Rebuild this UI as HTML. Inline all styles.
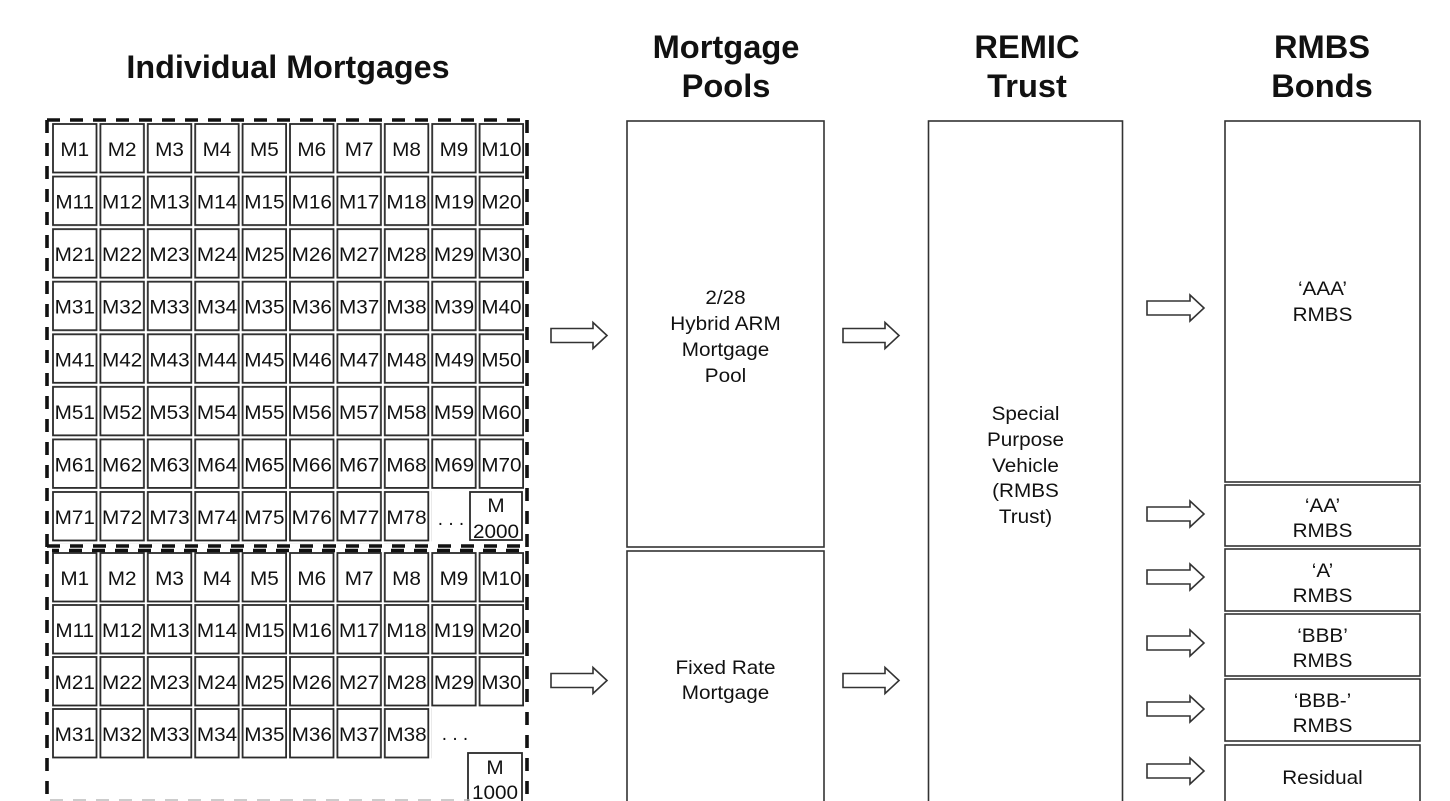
<!DOCTYPE html>
<html>
<head>
<meta charset="utf-8">
<style>
html,body{margin:0;padding:0;background:#fff;}
svg{display:block;}
text{font-family:"Liberation Sans",Arial,sans-serif;fill:#111;text-anchor:middle;}
.t{font-size:32px;font-weight:bold;}
.c{font-size:19px;}
.b{font-size:19px;}
</style>
</head>
<body>
<svg width="1450" height="801" viewBox="0 0 1450 801" xmlns="http://www.w3.org/2000/svg">
<defs>
<pattern id="p1" x="52" y="123" width="47.4" height="52.57" patternUnits="userSpaceOnUse">
<rect x="1" y="1" width="43.5" height="48.5" fill="#fff" stroke="#2a2a2a" stroke-width="1.8"/>
</pattern>
<pattern id="p2" x="52" y="552" width="47.4" height="52" patternUnits="userSpaceOnUse">
<rect x="1" y="1" width="43.5" height="48.5" fill="#fff" stroke="#2a2a2a" stroke-width="1.8"/>
</pattern>
</defs>

<!-- Titles -->
<g transform="translate(288 78) scale(1.01 1)"><text class="t" x="0" y="0">Individual  Mortgages</text></g>
<g transform="translate(726 0) scale(1.02 1)"><text class="t" x="0" y="58">Mortgage</text><text class="t" x="0" y="97">Pools</text></g>
<g transform="translate(1027 0) scale(1.02 1)"><text class="t" x="0" y="58">REMIC</text><text class="t" x="0" y="97">Trust</text></g>
<g transform="translate(1322 0) scale(1.02 1)"><text class="t" x="0" y="58">RMBS</text><text class="t" x="0" y="97">Bonds</text></g>

<!-- Grid cells -->
<rect x="52" y="123" width="474" height="368" fill="url(#p1)"/>
<rect x="52" y="491" width="379.2" height="52.57" fill="url(#p1)"/>
<rect x="470" y="492" width="52" height="48" fill="#fff" stroke="#2a2a2a" stroke-width="1.8"/>
<rect x="52" y="552" width="474" height="156" fill="url(#p2)"/>
<rect x="52" y="708" width="379.2" height="52" fill="url(#p2)"/>
<rect x="468" y="753" width="54" height="55" fill="#fff" stroke="#2a2a2a" stroke-width="1.8"/>

<!-- Dashed borders -->
<g fill="none" stroke="#111" stroke-width="3.6" stroke-dasharray="13 10">
<line x1="47" y1="120" x2="528" y2="120"/>
<line x1="47" y1="120" x2="47" y2="547"/>
<line x1="527" y1="120" x2="527" y2="547"/>
<line x1="47" y1="546" x2="528" y2="546"/>
<line x1="52" y1="550.5" x2="528" y2="550.5" stroke-dashoffset="6"/>
<line x1="47" y1="551" x2="47" y2="801"/>
<line x1="527" y1="551" x2="527" y2="801"/>
</g>
<line x1="50" y1="800" x2="470" y2="800" stroke="#bbb" stroke-width="1.5" stroke-dasharray="13 10"/>

<!-- Cell labels, column groups -->
<g class="c">
<g transform="translate(74.75 0) scale(1.09 1)">
<text class="c" y="156">M1</text><text class="c" y="208.6">M11</text><text class="c" y="261.1">M21</text><text class="c" y="313.7">M31</text><text class="c" y="366.3">M41</text><text class="c" y="418.9">M51</text><text class="c" y="471.4">M61</text><text class="c" y="524">M71</text>
<text class="c" y="585">M1</text><text class="c" y="637">M11</text><text class="c" y="689">M21</text><text class="c" y="741">M31</text>
</g>
<g transform="translate(122.15 0) scale(1.09 1)">
<text class="c" y="156">M2</text><text class="c" y="208.6">M12</text><text class="c" y="261.1">M22</text><text class="c" y="313.7">M32</text><text class="c" y="366.3">M42</text><text class="c" y="418.9">M52</text><text class="c" y="471.4">M62</text><text class="c" y="524">M72</text>
<text class="c" y="585">M2</text><text class="c" y="637">M12</text><text class="c" y="689">M22</text><text class="c" y="741">M32</text>
</g>
<g transform="translate(169.55 0) scale(1.09 1)">
<text class="c" y="156">M3</text><text class="c" y="208.6">M13</text><text class="c" y="261.1">M23</text><text class="c" y="313.7">M33</text><text class="c" y="366.3">M43</text><text class="c" y="418.9">M53</text><text class="c" y="471.4">M63</text><text class="c" y="524">M73</text>
<text class="c" y="585">M3</text><text class="c" y="637">M13</text><text class="c" y="689">M23</text><text class="c" y="741">M33</text>
</g>
<g transform="translate(216.95 0) scale(1.09 1)">
<text class="c" y="156">M4</text><text class="c" y="208.6">M14</text><text class="c" y="261.1">M24</text><text class="c" y="313.7">M34</text><text class="c" y="366.3">M44</text><text class="c" y="418.9">M54</text><text class="c" y="471.4">M64</text><text class="c" y="524">M74</text>
<text class="c" y="585">M4</text><text class="c" y="637">M14</text><text class="c" y="689">M24</text><text class="c" y="741">M34</text>
</g>
<g transform="translate(264.35 0) scale(1.09 1)">
<text class="c" y="156">M5</text><text class="c" y="208.6">M15</text><text class="c" y="261.1">M25</text><text class="c" y="313.7">M35</text><text class="c" y="366.3">M45</text><text class="c" y="418.9">M55</text><text class="c" y="471.4">M65</text><text class="c" y="524">M75</text>
<text class="c" y="585">M5</text><text class="c" y="637">M15</text><text class="c" y="689">M25</text><text class="c" y="741">M35</text>
</g>
<g transform="translate(311.75 0) scale(1.09 1)">
<text class="c" y="156">M6</text><text class="c" y="208.6">M16</text><text class="c" y="261.1">M26</text><text class="c" y="313.7">M36</text><text class="c" y="366.3">M46</text><text class="c" y="418.9">M56</text><text class="c" y="471.4">M66</text><text class="c" y="524">M76</text>
<text class="c" y="585">M6</text><text class="c" y="637">M16</text><text class="c" y="689">M26</text><text class="c" y="741">M36</text>
</g>
<g transform="translate(359.15 0) scale(1.09 1)">
<text class="c" y="156">M7</text><text class="c" y="208.6">M17</text><text class="c" y="261.1">M27</text><text class="c" y="313.7">M37</text><text class="c" y="366.3">M47</text><text class="c" y="418.9">M57</text><text class="c" y="471.4">M67</text><text class="c" y="524">M77</text>
<text class="c" y="585">M7</text><text class="c" y="637">M17</text><text class="c" y="689">M27</text><text class="c" y="741">M37</text>
</g>
<g transform="translate(406.55 0) scale(1.09 1)">
<text class="c" y="156">M8</text><text class="c" y="208.6">M18</text><text class="c" y="261.1">M28</text><text class="c" y="313.7">M38</text><text class="c" y="366.3">M48</text><text class="c" y="418.9">M58</text><text class="c" y="471.4">M68</text><text class="c" y="524">M78</text>
<text class="c" y="585">M8</text><text class="c" y="637">M18</text><text class="c" y="689">M28</text><text class="c" y="741">M38</text>
</g>
<g transform="translate(453.95 0) scale(1.09 1)">
<text class="c" y="156">M9</text><text class="c" y="208.6">M19</text><text class="c" y="261.1">M29</text><text class="c" y="313.7">M39</text><text class="c" y="366.3">M49</text><text class="c" y="418.9">M59</text><text class="c" y="471.4">M69</text>
<text class="c" y="585">M9</text><text class="c" y="637">M19</text><text class="c" y="689">M29</text>
</g>
<g transform="translate(501.35 0) scale(1.09 1)">
<text class="c" y="156">M10</text><text class="c" y="208.6">M20</text><text class="c" y="261.1">M30</text><text class="c" y="313.7">M40</text><text class="c" y="366.3">M50</text><text class="c" y="418.9">M60</text><text class="c" y="471.4">M70</text>
<text class="c" y="585">M10</text><text class="c" y="637">M20</text><text class="c" y="689">M30</text>
</g>
<g transform="translate(496 0) scale(1.09 1)">
<text class="c" y="512">M</text><text class="c" y="538">2000</text>
</g>
<g transform="translate(495 0) scale(1.09 1)">
<text class="c" y="774">M</text><text class="c" y="799">1000</text>
</g>
<text class="c" x="451" y="525">. . .</text>
<text class="c" x="455" y="740">. . .</text>
</g>

<!-- Boxes -->
<g fill="none" stroke="#333" stroke-width="1.6">
<rect x="627" y="121" width="197" height="426"/>
<rect x="627" y="551" width="197" height="260"/>
<rect x="928.5" y="121" width="194" height="690"/>
<rect x="1225" y="121" width="195" height="361"/>
<rect x="1225" y="485" width="195" height="61"/>
<rect x="1225" y="549" width="195" height="62"/>
<rect x="1225" y="614" width="195" height="62"/>
<rect x="1225" y="679" width="195" height="62"/>
<rect x="1225" y="745" width="195" height="70"/>
</g>

<!-- Box labels -->
<g transform="translate(725.5 0) scale(1.09 1)">
<text class="b" y="304">2/28</text>
<text class="b" y="330">Hybrid ARM</text>
<text class="b" y="356">Mortgage</text>
<text class="b" y="382">Pool</text>
<text class="b" y="674">Fixed Rate</text>
<text class="b" y="699">Mortgage</text>
</g>
<g transform="translate(1025.5 0) scale(1.09 1)">
<text class="b" y="420">Special</text>
<text class="b" y="446">Purpose</text>
<text class="b" y="472">Vehicle</text>
<text class="b" y="497">(RMBS</text>
<text class="b" y="523">Trust)</text>
</g>
<g transform="translate(1322.5 0) scale(1.09 1)">
<text class="b" y="295">‘AAA’</text>
<text class="b" y="321">RMBS</text>
<text class="b" y="512">‘AA’</text>
<text class="b" y="537">RMBS</text>
<text class="b" y="577">‘A’</text>
<text class="b" y="602">RMBS</text>
<text class="b" y="642">‘BBB’</text>
<text class="b" y="667">RMBS</text>
<text class="b" y="707">‘BBB-’</text>
<text class="b" y="732">RMBS</text>
<text class="b" y="784">Residual</text>
</g>

<!-- Block arrows -->
<g fill="#fff" stroke="#333" stroke-width="1.6" stroke-linejoin="miter">
<polygon points="551,328.5 593,328.5 593,322.5 607,335.5 593,348.5 593,342.5 551,342.5"/>
<polygon points="551,673.5 593,673.5 593,667.5 607,680.5 593,693.5 593,687.5 551,687.5"/>
<polygon points="843,328.5 885,328.5 885,322.5 899,335.5 885,348.5 885,342.5 843,342.5"/>
<polygon points="843,673.5 885,673.5 885,667.5 899,680.5 885,693.5 885,687.5 843,687.5"/>
<polygon points="1147,301 1190,301 1190,295 1204,308 1190,321 1190,315 1147,315"/>
<polygon points="1147,507 1190,507 1190,501 1204,514 1190,527 1190,521 1147,521"/>
<polygon points="1147,570 1190,570 1190,564 1204,577 1190,590 1190,584 1147,584"/>
<polygon points="1147,636 1190,636 1190,630 1204,643 1190,656 1190,650 1147,650"/>
<polygon points="1147,702 1190,702 1190,696 1204,709 1190,722 1190,716 1147,716"/>
<polygon points="1147,764 1190,764 1190,758 1204,771 1190,784 1190,778 1147,778"/>
</g>
</svg>
</body>
</html>
